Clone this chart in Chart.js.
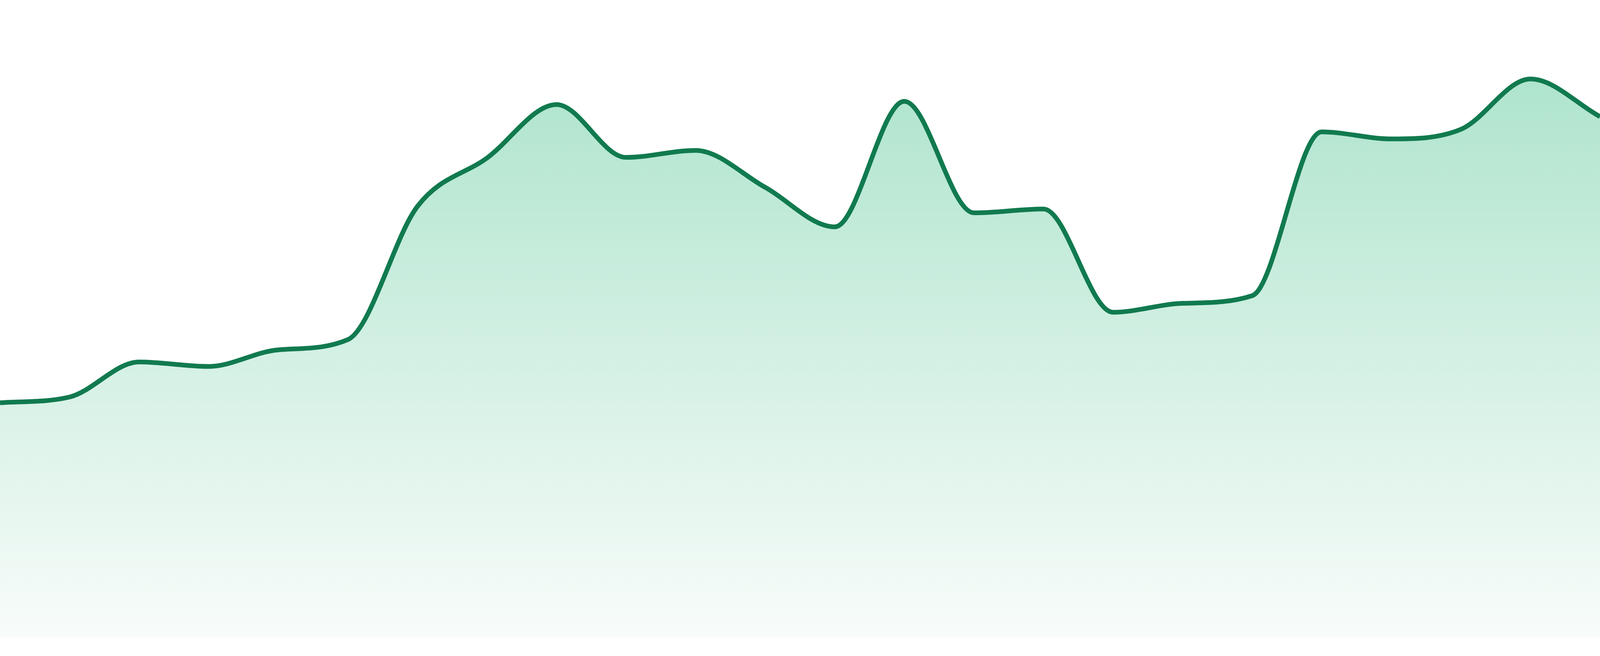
<!DOCTYPE html>
<html>
<head>
<meta charset="utf-8">
<title>Trend</title>
<script src="https://cdn.jsdelivr.net/npm/chart.js"></script>
<style>
  html, body { margin: 0; padding: 0; background: #ffffff; overflow: hidden; }
  #wrap { width: 100vw; height: 100vh; position: relative; }
  #wrap canvas { display: block; }
</style>
</head>
<body>
<div id="wrap"><canvas id="trendChart"></canvas></div>
<script>
// --- data ---
const categories = ['P1', 'P2', 'P3', 'P4', 'P5', 'P6', 'P7', 'P8', 'P9', 'P10', 'P11', 'P12',
                    'P13', 'P14', 'P15', 'P16', 'P17', 'P18', 'P19', 'P20', 'P21', 'P22', 'P23', 'P24'];
const values = [36.8, 37.7, 43.2, 42.5, 45.1, 46.7, 67.6, 75.2, 83.6, 75.3, 76.4, 70.6,
                64.4, 84.1, 66.6, 67.2, 51.0, 52.4, 53.6, 79.3, 78.2, 79.7, 87.6, 81.7];
const yMin = 0;
const yMax = 100;

const lineColor = '#117a4f';

// vertical fade for the area under the line
function areaGradient(context) {
    const { ctx, chartArea } = context.chart;
    if (!chartArea) return 'rgba(52, 195, 135, 0.3)';
    const top = chartArea.top + (chartArea.bottom - chartArea.top) * 0.11;
    const g = ctx.createLinearGradient(0, top, 0, chartArea.bottom);
    g.addColorStop(0, 'rgb(174, 228, 205)');
    g.addColorStop(1, 'rgb(248, 252, 250)');
    return g;
}

new Chart(document.getElementById('trendChart'), {
    type: 'line',
    data: {
        labels: categories,
        datasets: [{
            data: values,
            borderColor: lineColor,
            borderWidth: 12,
            backgroundColor: areaGradient,
            fill: 'start',
            cubicInterpolationMode: 'monotone',
            pointRadius: 0,
            pointHoverRadius: 0
        }]
    },
    options: {
        responsive: true,
        maintainAspectRatio: false,
        animation: false,
        layout: { padding: { top: 0, right: 0, bottom: 48, left: 0 } },
        scales: {
            x: { display: false, offset: false },
            y: { display: false, min: yMin, max: yMax }
        },
        plugins: {
            legend: { display: false },
            tooltip: { enabled: false }
        }
    }
});
</script>
</body>
</html>
